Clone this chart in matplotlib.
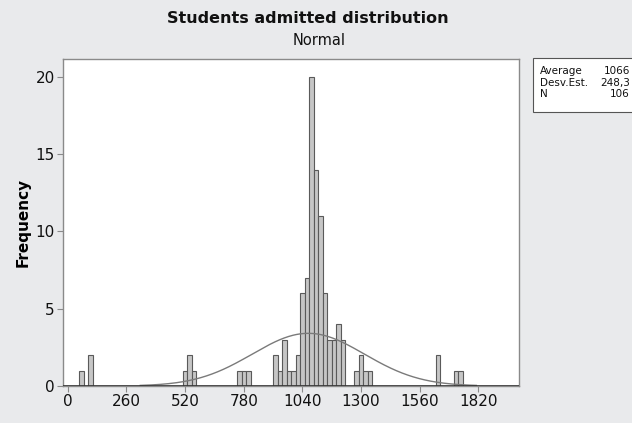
import numpy as np
import matplotlib as mpl

mpl.use('agg')

import matplotlib.pyplot as plt
from matplotlib.patches import Rectangle

# histogram bins (centre of each bin) and counts
bin_centers = [60, 100, 520, 540, 560, 760, 780, 800,
               920, 940, 960, 980, 1000, 1020, 1040, 1060, 1080, 1100,
               1120, 1140, 1160, 1180, 1200, 1220,
               1280, 1300, 1320, 1340, 1640, 1720, 1740]
counts = [1, 2, 1, 2, 1, 1, 1, 1,
          2, 1, 3, 1, 1, 2, 6, 7, 20, 14,
          11, 6, 3, 3, 4, 3,
          1, 2, 1, 1, 2, 1, 1]
bin_width = 20

x_ticks = [0, 260, 520, 780, 1040, 1300, 1560, 1820]
y_ticks = [0, 5, 10, 15, 20]

# fitted normal, values from the stats box
average = 1066
std_dev = 248.3
n_obs = 106
stat_labels = ['Average', 'Desv.Est.', 'N']
stat_values = ['1066', '248,3', '106']

bg = '#e9eaec'
spine_col = '#8a8a8a'

fig = plt.figure(figsize=(6.32, 4.23), dpi=100, facecolor=bg)
ax = fig.add_axes([0.1002, 0.0875, 0.7210, 0.7730])
ax.set_facecolor('white')

ax.bar(bin_centers, counts, width=bin_width, color='#c6c6c6',
       edgecolor='#5a5a5a', linewidth=0.8, zorder=2)

# normal curve over mean +/- 3 sd
xs = np.linspace(average - 3 * std_dev, average + 3 * std_dev, 300)
ys = n_obs * bin_width / (std_dev * np.sqrt(2 * np.pi)) * \
    np.exp(-0.5 * ((xs - average) / std_dev) ** 2)
ax.plot(xs, ys, color='#7a7a7a', linewidth=1.0, zorder=3)

ax.axhline(0, color='#333333', linewidth=1.2, zorder=4)

ax.set_xlim(-20, 2000)
ax.set_ylim(0, 21.15)
ax.set_xticks(x_ticks)
ax.set_yticks(y_ticks)
ax.tick_params(labelsize=11, length=4, color=spine_col, pad=2,
               labelcolor='#111111')
for s in ax.spines.values():
    s.set_color(spine_col)
    s.set_linewidth(1.0)

ax.set_ylabel('Frequency', fontsize=11, fontweight='bold', labelpad=4)

fig.text(0.487, 0.957, 'Students admitted distribution', ha='center',
         va='center', fontsize=11.5, fontweight='bold', color='#111111')
fig.text(0.505, 0.905, 'Normal', ha='center', va='center', fontsize=10.5,
         color='#111111')

# stats box at the top right
box = Rectangle((533 / 632, 1 - 112 / 423), 0.3, 54 / 423,
                transform=fig.transFigure, facecolor='white',
                edgecolor='#555555', linewidth=0.8)
fig.patches.append(box)
row_y = [71, 83, 94]
for lab, val, yy in zip(stat_labels, stat_values, row_y):
    fig.text(540 / 632, 1 - yy / 423, lab, ha='left', va='center',
             fontsize=7.5, color='#111111')
    fig.text(630 / 632, 1 - yy / 423, val, ha='right', va='center',
             fontsize=7.5, color='#111111')

fig.savefig('out.png', dpi=100, facecolor=bg)
